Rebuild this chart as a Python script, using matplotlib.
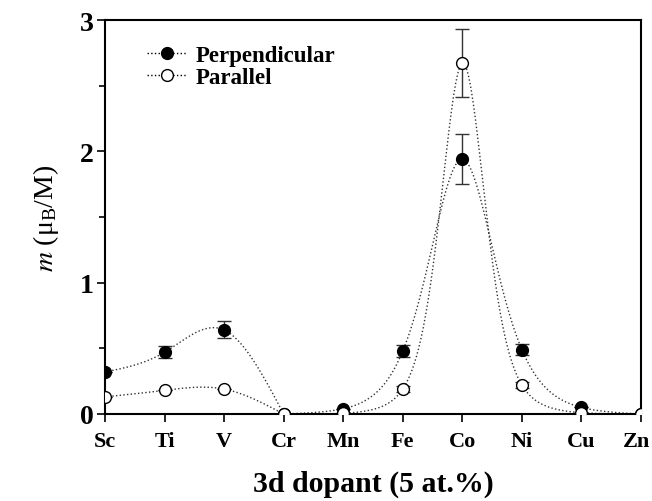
import numpy as np
import matplotlib
matplotlib.use("Agg")
import matplotlib.pyplot as plt
from matplotlib.ticker import MultipleLocator

# dopants along the x axis
dopants = ["Sc", "Ti", "V", "Cr", "Mn", "Fe", "Co", "Ni", "Cu", "Zn"]

# moment per dopant
perp = [0.32, 0.47, 0.64, 0.0, 0.04, 0.48, 1.94, 0.49, 0.05, 0.0]
perp_err = [0.0, 0.045, 0.065, 0.0, 0.0, 0.045, 0.19, 0.04, 0.0, 0.0]
para = [0.13, 0.18, 0.19, 0.0, 0.005, 0.19, 2.67, 0.22, 0.01, 0.0]
para_err = [0.0, 0.0, 0.0, 0.0, 0.0, 0.02, 0.26, 0.02, 0.0, 0.0]


# natural cubic spline through the points (guide to the eye)
def spline(x, y, n=300):
    x = np.asarray(x, float)
    y = np.asarray(y, float)
    k = len(x)
    h = np.diff(x)
    A = np.zeros((k, k))
    b = np.zeros(k)
    A[0, 0] = 1
    A[-1, -1] = 1
    for i in range(1, k - 1):
        A[i, i - 1] = h[i - 1]
        A[i, i] = 2 * (h[i - 1] + h[i])
        A[i, i + 1] = h[i]
        b[i] = 6 * ((y[i + 1] - y[i]) / h[i] - (y[i] - y[i - 1]) / h[i - 1])
    M = np.linalg.solve(A, b)
    xs = np.linspace(x[0], x[-1], n)
    j = np.clip(np.searchsorted(x, xs) - 1, 0, k - 2)
    t0 = xs - x[j]
    t1 = x[j + 1] - xs
    hj = h[j]
    ys = (M[j] * t1 ** 3 + M[j + 1] * t0 ** 3) / (6 * hj) \
        + (y[j] / hj - M[j] * hj / 6) * t1 + (y[j + 1] / hj - M[j + 1] * hj / 6) * t0
    return xs, ys


# left part (Sc..Cr) plain spline, right part (Cr..Zn) spline on log scale
def smooth(x, y, off=0.02):
    x = np.asarray(x, float)
    y = np.asarray(y, float)
    xa, ya = spline(x[:4], y[:4])
    xb, yb = spline(x[3:], np.log(y[3:] + off))
    yb = np.exp(yb) - off
    return np.concatenate([xa, xb]), np.clip(np.concatenate([ya, yb]), 0, None)


plt.rcParams["font.family"] = ["Liberation Serif", "DejaVu Serif"]
plt.rcParams["mathtext.fontset"] = "stix"

fig = plt.figure(figsize=(6.52, 5.02), dpi=100)
ax = fig.add_axes([105 / 652, 1 - 415 / 502, 536 / 652, 394 / 502])

xpos = np.arange(len(dopants))

xs, ys = smooth(xpos, perp)
ax.plot(xs, ys, ls=":", color="#333333", lw=1.0, zorder=1)
xs, ys = smooth(xpos, para)
ax.plot(xs, ys, ls=":", color="#333333", lw=1.0, zorder=1)

ax.errorbar(xpos, perp, yerr=perp_err, fmt="none", ecolor="#333333",
            elinewidth=1.0, capsize=5, capthick=1.0, zorder=2)
ax.errorbar(xpos, para, yerr=para_err, fmt="none", ecolor="#333333",
            elinewidth=1.0, capsize=5, capthick=1.0, zorder=2)
ax.plot(xpos, perp, "o", ms=8.5, mfc="black", mec="black", zorder=3)
ax.plot(xpos, para, "o", ms=8.5, mfc="white", mec="black", mew=1.0, zorder=3)

# legend entries
h1, = ax.plot([], [], "o", ls=":", color="black", ms=8.5, lw=1.0, mfc="black")
h2, = ax.plot([], [], "o", ls=":", color="black", ms=8.5, lw=1.0, mfc="white")
leg = ax.legend([h1, h2], ["Perpendicular", "Parallel"], loc="upper left",
                bbox_to_anchor=(0.04, 0.99), frameon=False, handlelength=1.7,
                handletextpad=0.4, labelspacing=0.05,
                prop={"weight": "bold", "size": 16.5})

ax.set_xlim(0, 9)
ax.set_ylim(0, 3)
ax.set_xticks(xpos)
# last label sits at the figure edge, so it is placed by hand a bit inward
ax.set_xticklabels(dopants[:-1] + [""], fontsize=16, fontweight="bold")
ax.annotate(dopants[-1], xy=(xpos[-1], 0), xycoords=("data", "axes fraction"),
            xytext=(-3, -12), textcoords="offset points", ha="center", va="top",
            fontsize=16, fontweight="bold")
ax.yaxis.set_major_locator(MultipleLocator(1))
ax.yaxis.set_minor_locator(MultipleLocator(0.5))
for lab in ax.get_yticklabels():
    lab.set_fontsize(20)
    lab.set_fontweight("bold")
ax.tick_params(axis="both", which="major", direction="out", length=6, width=1.2)
ax.tick_params(axis="y", which="minor", direction="out", length=4, width=1.2)
ax.tick_params(axis="x", pad=6)
ax.tick_params(axis="y", pad=2)
for s in ax.spines.values():
    s.set_linewidth(1.5)

ax.set_xlabel("3d dopant (5 at.%)", fontsize=21.5, fontweight="bold", labelpad=14)
ax.set_ylabel(r"$m$ ($\mathregular{\mu_B}$/M)", fontsize=20, labelpad=14)

fig.savefig("out.png", dpi=100)
